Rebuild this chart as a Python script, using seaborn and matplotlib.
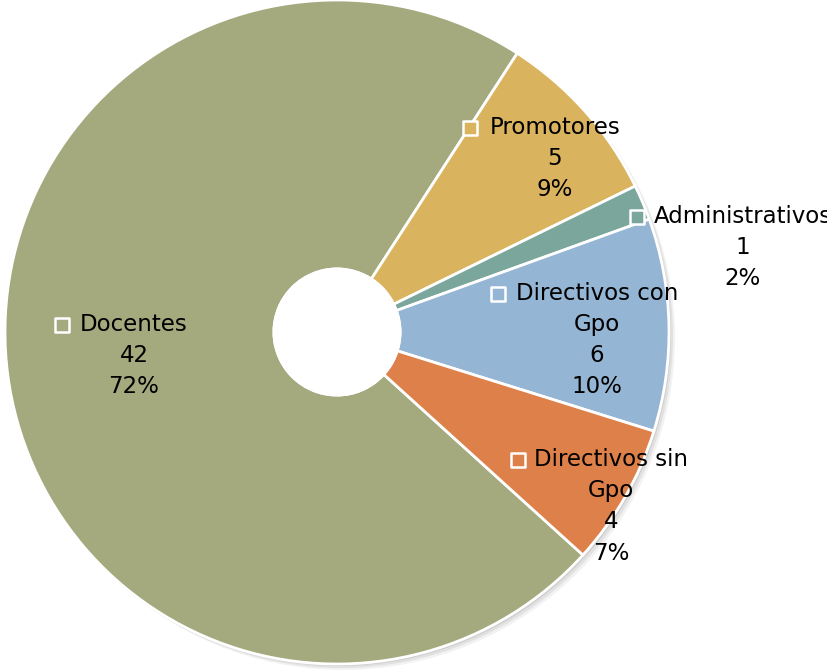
import numpy as np
import pandas as pd
import matplotlib
matplotlib.use('Agg')
import matplotlib.pyplot as plt
import seaborn as sns
from matplotlib.patches import Circle

categorias = ['Docentes', 'Promotores', 'Administrativos', 'Directivos con\nGpo', 'Directivos sin\nGpo']
valores = [42, 5, 1, 6, 4]
colores = ['#A4AA7E', '#DAB35F', '#7AA69B', '#95B5D4', '#DE8049']

df = pd.DataFrame({'categoria': categorias, 'valor': valores})
df['pct'] = df.valor / df.valor.sum() * 100

sns.set_theme(style='white')
plt.rcParams['font.family'] = ['DejaVu Sans']

fig = plt.figure(figsize=(8.27, 6.71), dpi=100)
ax = fig.add_axes([0, 0, 1, 1])

# sombra leve detras del anillo
for off, a in [(0.018, 0.10), (0.012, 0.15), (0.006, 0.2)]:
    ax.add_patch(Circle((off, -off), 1.0, color='gray', alpha=a, lw=0, zorder=0))

wedges, _ = ax.pie(df.valor, colors=sns.color_palette(colores), startangle=-42.2,
                   counterclock=False, radius=1.0,
                   wedgeprops=dict(width=0.81, edgecolor='white', linewidth=2))

# hueco central blanco
ax.add_patch(Circle((0, 0), 0.19, facecolor='white', edgecolor='white', lw=2, zorder=4))

# posiciones de etiquetas en pixeles (centro x del texto, y de la primera linea, x del marcador)
centro, escala = (337, 332), 332
etiquetas = [(134, 325, 62), (555, 128, 470), (743, 217, 637), (597, 294, 498), (611, 460, 518)]

def a_datos(px, py):
    return (px - centro[0]) / escala, (centro[1] - py) / escala

for i, row in df.iterrows():
    cx, y0, mx = etiquetas[i]
    lineas = row.categoria.split('\n') + [str(row.valor), f'{row.pct:.0f}%']
    for j, t in enumerate(lineas):
        x, y = a_datos(cx, y0 + 31 * j)
        ax.text(x, y, t, ha='center', va='center', fontsize=16.5, color='black', zorder=6)
    x, y = a_datos(mx, y0)
    ax.scatter([x], [y], marker='s', s=90, facecolor=colores[i], edgecolor='white', linewidth=1.8, zorder=5)

ax.set_xlim(-337 / 332, (827 - 337) / 332)
ax.set_ylim(-(671 - 332) / 332, 1.0)
ax.set_aspect('auto')
ax.axis('off')
fig.savefig('out.png', dpi=100)
